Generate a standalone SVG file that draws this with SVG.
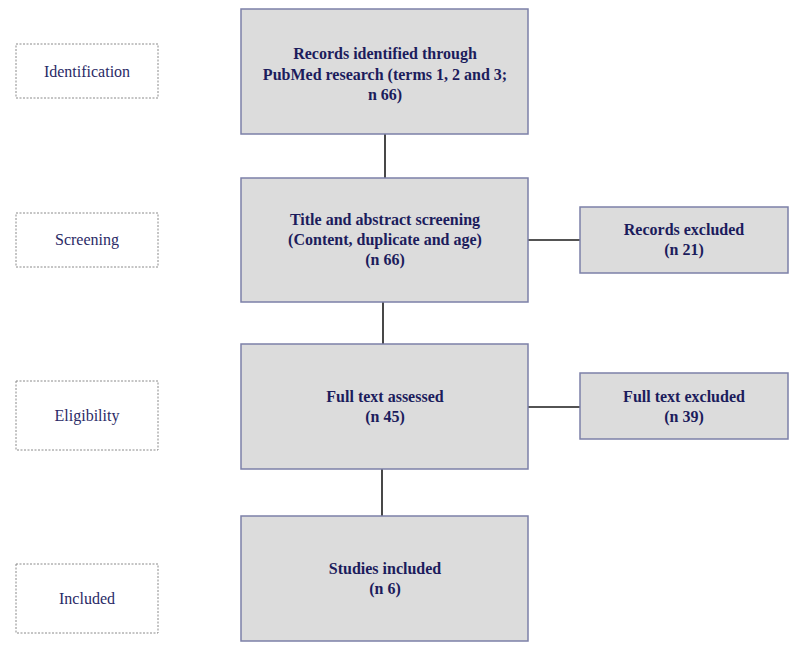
<svg xmlns="http://www.w3.org/2000/svg" width="800" height="655" viewBox="0 0 800 655">
<style>
.box{fill:#dcdcdc;stroke:#7c80a8;stroke-width:1.5}
.stage{fill:#ffffff;stroke:#8a8a8a;stroke-width:1;stroke-dasharray:2,1.5}
.t{font-family:'Liberation Serif','DejaVu Serif',serif;font-weight:bold;font-size:16px;fill:#1c1c5c;text-anchor:middle}
.s{font-family:'Liberation Serif','DejaVu Serif',serif;font-size:16px;fill:#2a2a66;text-anchor:middle}
.c{stroke:#1a1a1a;stroke-width:1.6;fill:none}
</style>
<rect width="800" height="655" fill="#ffffff"/>
<g id="connectors">
<line class="c" x1="385" y1="134" x2="385" y2="178"/>
<line class="c" x1="383" y1="302" x2="383" y2="344"/>
<line class="c" x1="382" y1="469" x2="382" y2="516"/>
<line class="c" x1="528" y1="240" x2="580" y2="240"/>
<line class="c" x1="528" y1="407" x2="580" y2="407"/>
</g>
<g id="stage-identification"><rect class="stage" x="16" y="44" width="142" height="54"/><text class="s" x="87" y="77">Identification</text></g>
<g id="stage-screening"><rect class="stage" x="16" y="213" width="142" height="54"/><text class="s" x="87" y="245">Screening</text></g>
<g id="stage-eligibility"><rect class="stage" x="16" y="381" width="142" height="69"/><text class="s" x="87" y="421">Eligibility</text></g>
<g id="stage-included"><rect class="stage" x="16" y="564" width="142" height="69"/><text class="s" x="87" y="604">Included</text></g>
<g id="records-identified"><rect class="box" x="241" y="9" width="287" height="125"/>
<text class="t" x="385" y="59">Records identified through</text>
<text class="t" x="385" y="80">PubMed research (terms 1, 2 and 3;</text>
<text class="t" x="385" y="100">n 66)</text></g>
<g id="screening"><rect class="box" x="241" y="178" width="287" height="124"/>
<text class="t" x="385" y="225">Title and abstract screening</text>
<text class="t" x="385" y="245">(Content, duplicate and age)</text>
<text class="t" x="385" y="265">(n 66)</text></g>
<g id="records-excluded"><rect class="box" x="580" y="207" width="208" height="66"/>
<text class="t" x="684" y="235">Records excluded</text>
<text class="t" x="684" y="255">(n 21)</text></g>
<g id="full-text-assessed"><rect class="box" x="241" y="344" width="287" height="125"/>
<text class="t" x="385" y="402">Full text assessed</text>
<text class="t" x="385" y="422">(n 45)</text></g>
<g id="full-text-excluded"><rect class="box" x="580" y="373" width="208" height="66"/>
<text class="t" x="684" y="402">Full text excluded</text>
<text class="t" x="684" y="422">(n 39)</text></g>
<g id="studies-included"><rect class="box" x="241" y="516" width="287" height="125"/>
<text class="t" x="385" y="574">Studies included</text>
<text class="t" x="385" y="594">(n 6)</text></g>
</svg>
